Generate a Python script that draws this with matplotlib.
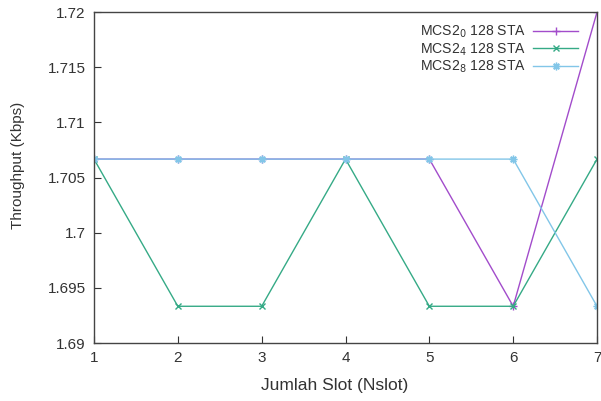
import numpy as np
import matplotlib.pyplot as plt

plt.rcParams['font.family'] = ['Liberation Sans', 'DejaVu Sans']

# throughput per number of slots, 128 stations
nslot = [1, 2, 3, 4, 5, 6, 7]
mcs0 = [1.70667, 1.70667, 1.70667, 1.70667, 1.70667, 1.69333, 1.72]
mcs4 = [1.70667, 1.69333, 1.69333, 1.70667, 1.69333, 1.69333, 1.70667]
mcs8 = [1.70667, 1.70667, 1.70667, 1.70667, 1.70667, 1.70667, 1.69333]
labels = ['MCS2$_0$ 128 STA', 'MCS2$_4$ 128 STA', 'MCS2$_8$ 128 STA']
yticks = [1.69, 1.695, 1.7, 1.705, 1.71, 1.715, 1.72]

fig = plt.figure(figsize=(6.01, 4.01), dpi=100)
ax = fig.add_axes([0.1564, 0.1446, 0.837, 0.8254])

ax.plot(nslot, mcs0, color='#a24ccb', lw=1.0, marker='+', ms=6, mew=1.0, label=labels[0])
ax.plot(nslot, mcs4, color='#35aa86', lw=1.0, marker='x', ms=4.5, mew=1.0, label=labels[1])
ax.plot(nslot, mcs8, color='#82c6e8', lw=1.0, marker=(8, 2, 0), ms=5.5, mew=1.0, label=labels[2])

ax.set_xlim(1, 7)
ax.set_ylim(1.69, 1.72)
ax.set_xticks(nslot)
ax.set_yticks(yticks)
ax.set_yticklabels([('%g' % v) for v in yticks])
ax.tick_params(direction='in', length=5, width=0.8, labelsize=11, colors='#333333', pad=6)
for s in ax.spines.values():
    s.set_color('#444444')
    s.set_linewidth(1.0)

ax.set_xlabel('Jumlah Slot (Nslot)', fontsize=12.5, color='#333333')
ax.xaxis.set_label_coords(0.479, -0.106)
ax.set_ylabel('Throughput (Kbps)', fontsize=11, color='#333333')
ax.yaxis.set_label_coords(-0.137, 0.538)

ax.legend(loc='upper right', bbox_to_anchor=(0.974, 0.982), borderaxespad=0,
          frameon=False, markerfirst=False, fontsize=10.1,
          handlelength=3.2, labelspacing=0.08, handletextpad=0.5,
          labelcolor='#333333')

fig.savefig('out.png', dpi=100)
